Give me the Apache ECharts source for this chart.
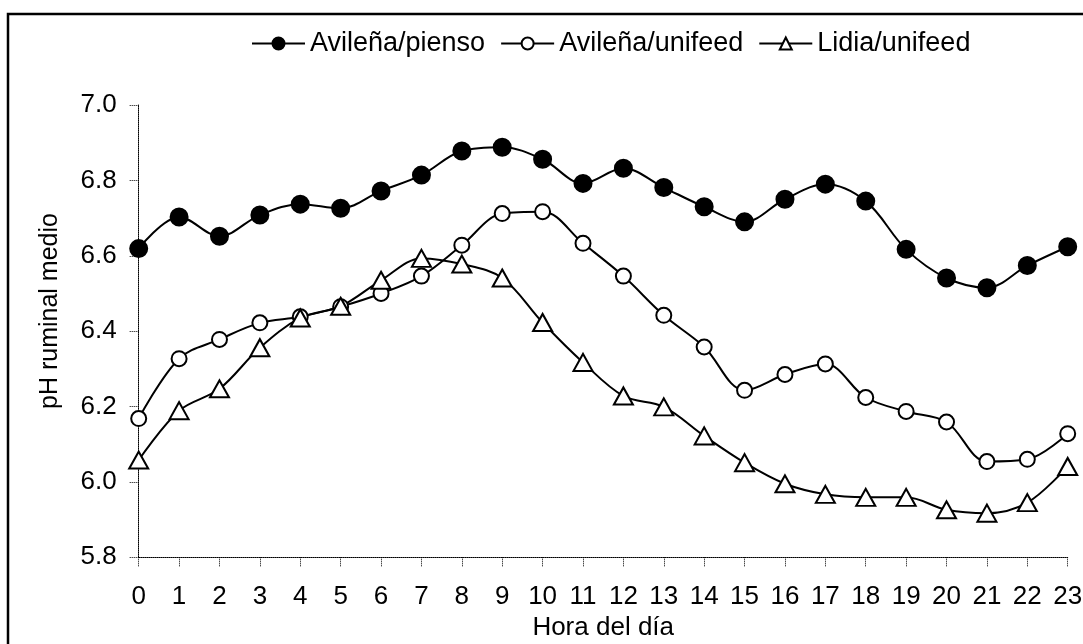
<!DOCTYPE html>
<html>
<head>
<meta charset="utf-8">
<title>pH ruminal medio</title>
<script src="https://cdn.jsdelivr.net/npm/echarts@6/dist/echarts.min.js"></script>
<style>
    html, body { margin: 0; padding: 0; background: #fff; }
    #chart { width: 1083px; height: 644px; }
</style>
</head>
<body>
<div id="chart"></div>
<script>
/**
 * pH ruminal medio por hora del dia
 */
var hours = ['0', '1', '2', '3', '4', '5', '6', '7', '8', '9', '10', '11',
    '12', '13', '14', '15', '16', '17', '18', '19', '20', '21', '22', '23'];
var avilenaPienso = [6.619, 6.703, 6.652, 6.708, 6.737, 6.726, 6.772, 6.814, 6.878, 6.888, 6.856, 6.792,
    6.832, 6.781, 6.730, 6.690, 6.750, 6.790, 6.745, 6.617, 6.541, 6.515, 6.574, 6.624];
var avilenaUnifeed = [6.168, 6.327, 6.378, 6.422, 6.438, 6.465, 6.500, 6.546, 6.628, 6.712, 6.717, 6.633,
    6.546, 6.442, 6.358, 6.243, 6.285, 6.313, 6.224, 6.187, 6.159, 6.054, 6.060, 6.128];
var lidiaUnifeed = [6.058, 6.189, 6.247, 6.356, 6.435, 6.466, 6.535, 6.593, 6.578, 6.541, 6.423, 6.317,
    6.228, 6.199, 6.122, 6.051, 5.995, 5.967, 5.959, 5.959, 5.926, 5.917, 5.945, 6.041];
var seriesNames = ['Avileña/pienso', 'Avileña/unifeed', 'Lidia/unifeed'];
var yTicks = { min: 5.8, max: 7.0, step: 0.2 };

(function () {
    'use strict';

    var FONT = 'Liberation Sans, Arial, sans-serif';
    var chart = echarts.init(document.getElementById('chart'), null, { renderer: 'canvas' });

    function dottedAxis() {
        return {
            axisLine: { show: true, lineStyle: { color: '#000', width: 1, type: 'dotted' } },
            axisTick: { show: true, length: 9, inside: false, lineStyle: { color: '#000', width: 1, type: 'dotted' } },
            splitLine: { show: false }
        };
    }

    function lineSeries(name, data, symbol, size, fill) {
        return {
            name: name,
            type: 'line',
            data: data,
            smooth: 0.35,
            symbol: symbol,
            symbolSize: size,
            showAllSymbol: true,
            lineStyle: { color: '#000', width: 2 },
            itemStyle: { color: fill, borderColor: '#000', borderWidth: 2 },
            emphasis: { disabled: true },
            animation: false
        };
    }

    var xAxis = dottedAxis();
    xAxis.type = 'category';
    xAxis.data = hours;
    xAxis.boundaryGap = false;
    xAxis.axisLabel = { color: '#000', fontFamily: FONT, fontSize: 26, margin: 27 };
    xAxis.name = 'Hora del día';
    xAxis.nameLocation = 'middle';
    xAxis.nameGap = 58;
    xAxis.nameTextStyle = { color: '#000', fontFamily: FONT, fontSize: 26 };

    var yAxis = dottedAxis();
    yAxis.type = 'value';
    yAxis.min = yTicks.min;
    yAxis.max = yTicks.max;
    yAxis.interval = yTicks.step;
    yAxis.axisLabel = {
        color: '#000', fontFamily: FONT, fontSize: 26, margin: 22,
        formatter: function (v) { return v.toFixed(1); }
    };

    chart.setOption({
        backgroundColor: '#fff',
        animation: false,
        grid: {
            left: 138.7, right: 15.3, top: 105, bottom: 86.7,
            containLabel: false, outerBoundsMode: 'none'
        },
        legend: {
            data: seriesNames,
            left: 251,
            top: 30,
            padding: 0,
            itemWidth: 53,
            itemHeight: 15,
            itemGap: 15,
            textStyle: { color: '#000', fontFamily: FONT, fontSize: 27 }
        },
        xAxis: xAxis,
        yAxis: yAxis,
        graphic: [
            {
                type: 'polyline',
                shape: { points: [[8, 700], [8, 14], [1100, 14]] },
                style: { stroke: '#000', lineWidth: 2.5, fill: null },
                silent: true
            },
            {
                type: 'text',
                x: 50,
                y: 311,
                rotation: Math.PI / 2,
                style: {
                    text: 'pH ruminal medio',
                    fill: '#000',
                    font: '25px ' + FONT,
                    textAlign: 'center',
                    textVerticalAlign: 'middle'
                },
                silent: true
            }
        ],
        series: [
            lineSeries(seriesNames[0], avilenaPienso, 'circle', 17, '#000'),
            lineSeries(seriesNames[1], avilenaUnifeed, 'circle', 15, '#fff'),
            lineSeries(seriesNames[2], lidiaUnifeed, 'triangle', [19, 17], '#fff')
        ]
    });
})();
</script>
</body>
</html>
